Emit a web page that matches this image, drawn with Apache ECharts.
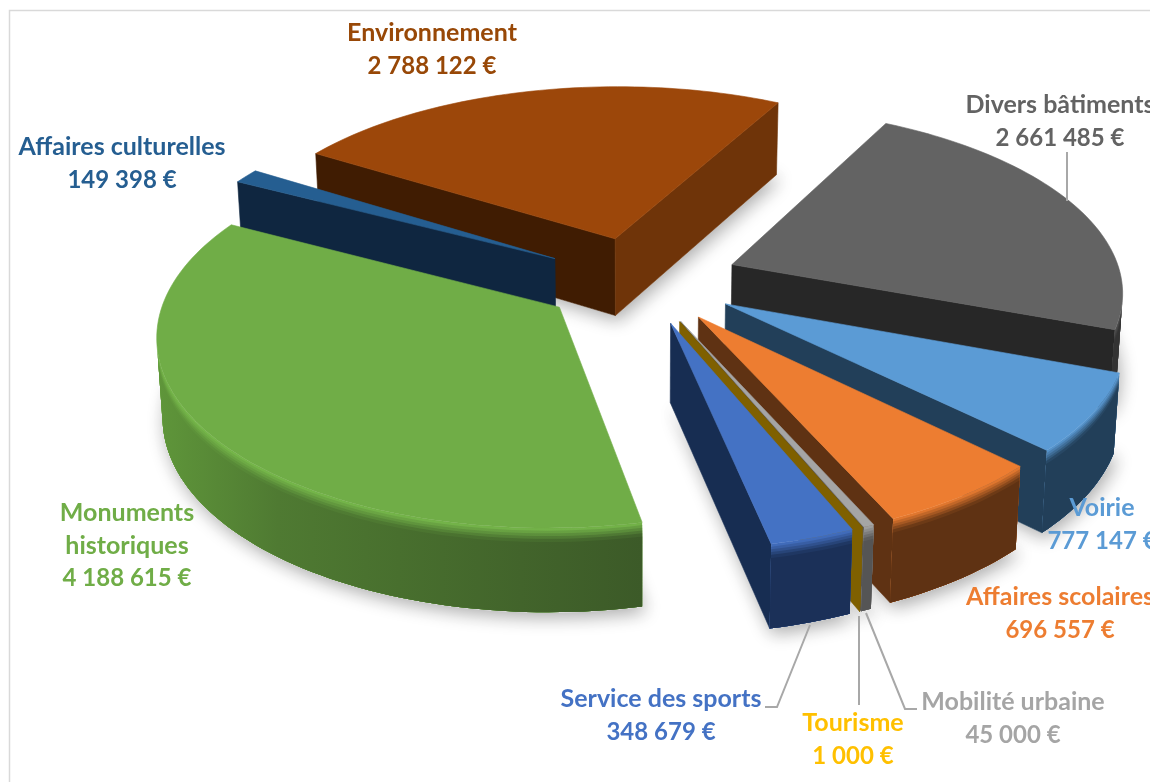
<!DOCTYPE html>
<html><head><meta charset="utf-8">
<style>html,body{margin:0;padding:0;background:#fff;overflow:hidden}#c{width:1150px;height:782px}</style>
<script src="https://cdn.jsdelivr.net/npm/echarts@6/dist/echarts.min.js"></script>
</head><body><div id="c"></div>
<script>
// ---- data (pie order, clockwise) ----
const categories = ['Environnement','Divers bâtiments','Voirie','Affaires scolaires','Mobilité urbaine','Tourisme','Service des sports','Monuments historiques','Affaires culturelles'];
const amounts = [2788122,2661485,777147,696557,45000,1000,348679,4188615,149398];
const amountLabels = ['2 788 122 €','2 661 485 €','777 147 €','696 557 €','45 000 €','1 000 €','348 679 €','4 188 615 €','149 398 €'];

// ---- styles ----
const topColors  = ['#9c470a','#636363','#5b9bd5','#ed7d31','#a5a5a5','#7f6000','#4472c4','#70ad47','#255e91'];
const startFace  = ['#401c02','#272727','#223f59','#5f3213','#555555','#7f6000','#172d52','#3f6629','#0f2640'];
const endFace    = ['#6f3409','#272727','#223f59','#5f3213','#555555','#7f6000','#172d52','#3f6629','#0f2640'];
const sideNear   = ['#6f3409','#333333','#223f59','#5f3213','#555555','#7f6000','#1b3058','#3c5a28','#0f2640'];
const sideFar    = ['#6f3409','#333333','#223f59','#5f3213','#555555','#7f6000','#1b3058','#639c3c','#0f2640'];
const rimColors  = ['#9c470a','#555555','#5b9bd5','#ed7d31','#a5a5a5','#7f6000','#4472c4','#78bb4c','#255e91'];
const labelColors= ['#984807','#636363','#5b9bd5','#ed7d31','#a5a5a5','#ffc000','#4472c4','#70ad47','#255e91'];
const paintRank  = [0,2,4,5,6,7,8,3,1];
const labelNames = ['Environnement','Divers bâtiments','Voirie','Affaires scolaires','Mobilité urbaine','Tourisme','Service des sports','Monuments\nhistoriques','Affaires culturelles'];
const labelCentre= [[432,49.5],[1060,121.5],[1102,524.5],[1060,613.5],[1013,718.5],[853,739.5],[661,715.5],[127,545.5],[122,163.5]];
const leaders = [[[1067,152],[1067,201]],[[810,625],[777,707],[765,707]],[[859,616],[859,705]],[[866,613],[905,709],[917,709]]];

// ---- projection ----
const CX=640, CY=280, SX=390, SY=183, PX=0.13, PY=0.135, EXPLODE_X=0.255, EXPLODE_Y=0.24, DEPTH=78, START=-58;
function project(X,Y,z){
  const x=X*SX/(1-PX*Y), y=Y*SY/(1-PY*Y);
  const shrink=1-0.012*z/DEPTH;
  return [CX+x*shrink, CY+y+z*(1+0.07*Y)];
}
const total=amounts.reduce((a,b)=>a+b,0);
const dir=a=>[Math.sin(a*Math.PI/180),-Math.cos(a*Math.PI/180)];
function spanOf(i){
  let s=0; for(let k=0;k<i;k++) s+=amounts[k];
  return [START+s/total*360, START+(s+amounts[i])/total*360];
}
function hex(c){return [1,3,5].map(i=>parseInt(c.substr(i,2),16));}
function toHex(v){return '#'+v.map(x=>Math.round(x).toString(16).padStart(2,'0')).join('');}
function mix(a,b,t){const A=hex(a),B=hex(b);return toHex(A.map((v,i)=>v+(B[i]-v)*t));}
function area(p){let s=0;for(let i=0;i<p.length;i++){const q=p[(i+1)%p.length];s+=p[i][0]*q[1]-q[0]*p[i][1];}return s/2;}
function geom(i){
  const [a0,a1]=spanOf(i), m=dir((a0+a1)/2), apex=[m[0]*EXPLODE_X,m[1]*EXPLODE_Y];
  const n=Math.max(2,Math.ceil((a1-a0)/1.5)), rim=[];
  for(let k=0;k<=n;k++){const a=a0+(a1-a0)*k/n,d=dir(a);rim.push({a:a,X:apex[0]+d[0],Y:apex[1]+d[1]});}
  return {a0,a1,apex,rim};
}
const poly=(pts,fill,z2,extra)=>({type:'polygon',z2:z2,silent:true,shape:{points:pts},
  style:Object.assign({fill:fill,stroke:fill,lineWidth:0.6},extra||{})});

function renderShadow(params,api){
  const i=params.dataIndex; api.value(0);
  const g=geom(i);
  const pts=[project(g.apex[0],g.apex[1],DEPTH)].concat(g.rim.map(r=>project(r.X,r.Y,DEPTH)));
  return poly(pts,'#ffffff',1,{shadowBlur:18,shadowColor:'rgba(0,0,0,0.33)',shadowOffsetX:3,shadowOffsetY:5});
}
function renderSlice(params,api){
  const i=params.dataIndex; api.value(0);
  const g=geom(i), kids=[], z0=(paintRank[i]+1)*10;
  const A=z=>project(g.apex[0],g.apex[1],z);
  const first=g.rim[0], last=g.rim[g.rim.length-1];
  const f0=[A(0),project(first.X,first.Y,0),project(first.X,first.Y,DEPTH),A(DEPTH)];
  if(area(f0)<0) kids.push(poly(f0,startFace[i],z0));
  const f1=[A(0),project(last.X,last.Y,0),project(last.X,last.Y,DEPTH),A(DEPTH)];
  if(area(f1)>0) kids.push(poly(f1,endFace[i],z0));
  const vis=[];
  for(let k=0;k<g.rim.length-1;k++){
    const p=g.rim[k],q=g.rim[k+1];
    if(area([project(p.X,p.Y,0),project(q.X,q.Y,0),project(q.X,q.Y,DEPTH),project(p.X,p.Y,DEPTH)])<0){
      if(!vis.length||vis[vis.length-1]!==p) vis.push(p);
      vis.push(q);
    }
  }
  if(vis.length){
    const bands=[0,2.5,5,7.5,10,13];
    const xs=vis.map(r=>project(r.X,r.Y,0)[0]);
    const stopsFor=c=>{
      const stops=[0,0.25,0.5,0.75,1].map(f=>{
        const target=Math.min(...xs)+(Math.max(...xs)-Math.min(...xs))*f;
        let best=vis[0],bd=1e9;
        vis.forEach((r,n)=>{const d=Math.abs(xs[n]-target);if(d<bd){bd=d;best=r;}});
        const t=Math.min(1,Math.max(0,((best.a+360)%360-168)/100));
        return {offset:f,color:c(mix(sideNear[i],sideFar[i],t))};
      });
      return {type:'linear',global:true,x:Math.min(...xs),y:0,x2:Math.max(...xs)+0.01,y2:0,colorStops:stops};
    };
    bands.forEach((z,b)=>{
      const f=stopsFor(side=>b===bands.length-1?side:mix(rimColors[i],side,(b+0.5)/(bands.length-1)));
      const pts=vis.map(r=>project(r.X,r.Y,z)).concat(vis.slice().reverse().map(r=>project(r.X,r.Y,DEPTH)));
      kids.push(poly(pts,f,z0+1+b,{stroke:null,lineWidth:0}));
    });
  }
  kids.push(poly([A(0)].concat(g.rim.map(r=>project(r.X,r.Y,0))),topColors[i],z0+8));
  return {type:'group',children:kids};
}
function renderLabel(params,api){
  const i=params.dataIndex; api.value(0);
  const names=labelNames[i].split('\n').map(s=>'{n|'+s+'}').join('\n');
  const base={fontFamily:'Lato',fontWeight:'bold',fill:labelColors[i],lineHeight:33,align:'center'};
  return {type:'text',silent:true,x:labelCentre[i][0],y:labelCentre[i][1],style:{
    text:names+'\n{v|'+amountLabels[i]+'}',
    rich:{n:Object.assign({fontSize:25},base),v:Object.assign({fontSize:24},base)},
    fill:labelColors[i],font:'bold 25px Lato',lineHeight:33,align:'center',verticalAlign:'middle'}};
}
const rows=amounts.map((v,i)=>({name:categories[i],value:[v]}));
const chart=echarts.init(document.getElementById('c'),null,{renderer:'canvas'});
chart.setOption({
  animation:false,backgroundColor:'#ffffff',
  graphic:[
    {type:'rect',z:-10,silent:true,shape:{x:9.5,y:10.5,width:1300,height:900},style:{fill:'none',stroke:'#d9d9d9',lineWidth:1.5}}
  ].concat(leaders.map(p=>({type:'polyline',z:5,silent:true,shape:{points:p},style:{fill:null,stroke:'#a8a8a8',lineWidth:2}}))),
  series:[
    {type:'custom',coordinateSystem:'none',z:1,silent:true,data:rows,renderItem:renderShadow},
    {type:'custom',coordinateSystem:'none',z:2,silent:true,data:rows,renderItem:renderSlice},
    {type:'custom',coordinateSystem:'none',z:6,silent:true,data:rows,renderItem:renderLabel}
  ]
});
</script></body></html>
